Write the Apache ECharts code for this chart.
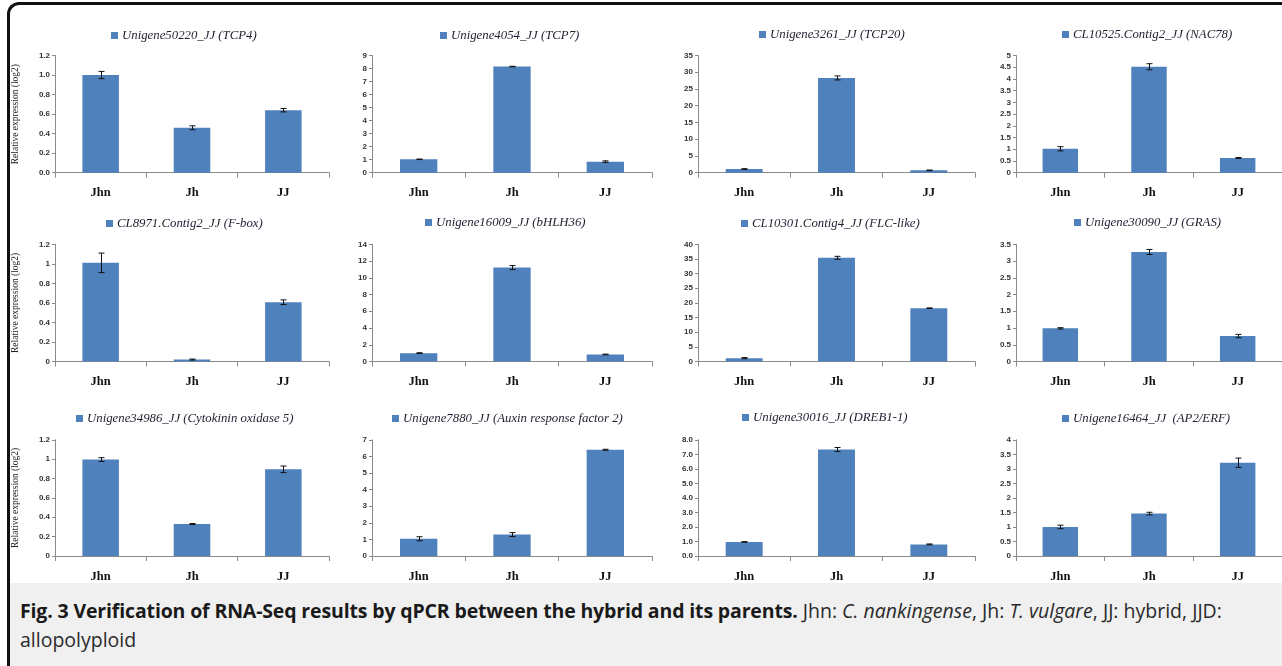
<!DOCTYPE html>
<html>
<head>
<meta charset="utf-8">
<title>qPCR verification</title>
<script src="https://cdn.jsdelivr.net/npm/echarts@6/dist/echarts.min.js"></script>
<style>
  body { margin: 0; background: #fff; }
  #wrap { position: relative; width: 1282px; height: 666px; overflow: hidden; }
  #main { position: absolute; left: 0; top: 0; width: 1282px; height: 583px; }
  #frame { position: absolute; left: 7px; top: 2px; width: 1280px; height: 680px;
           border-left: 3px solid #111; border-top: 3px solid #111;
           border-top-left-radius: 12px; pointer-events: none; }
  #caption { position: absolute; left: 10px; top: 583px; width: 1272px; height: 83px;
             background: #f0f0f0; font-family: "Open Sans", sans-serif; font-size: 19.5px;
             color: #2a2a2a; line-height: 29px; padding: 13px 0 0 10px; box-sizing: border-box; }
  #caption b { font-weight: 700; color: #1a1a1a; letter-spacing: -0.15px; }
</style>
</head>
<body>
<div id="wrap">
  <div id="main"></div>
  <div id="caption"><b>Fig. 3 Verification of RNA-Seq results by qPCR between the hybrid and its parents.</b> Jhn: <i>C. nankingense</i>, Jh: <i>T. vulgare</i>, JJ: hybrid, JJD:<br>allopolyploid</div>
  <div id="frame"></div>
</div>
<script>
// 数据
var categories = ['Jhn', 'Jh', 'JJ'];
var genes = [
  'Unigene50220_JJ (TCP4)', 'Unigene4054_JJ (TCP7)', 'Unigene3261_JJ (TCP20)', 'CL10525.Contig2_JJ (NAC78)',
  'CL8971.Contig2_JJ (F-box)', 'Unigene16009_JJ (bHLH36)', 'CL10301.Contig4_JJ (FLC-like)', 'Unigene30090_JJ (GRAS)',
  'Unigene34986_JJ (Cytokinin oxidase 5)', 'Unigene7880_JJ (Auxin response factor 2)', 'Unigene30016_JJ (DREB1-1)', 'Unigene16464_JJ  (AP2/ERF)'
];
var means = [
  [1.0, 0.46, 0.64], [1.03, 8.15, 0.85], [1.1, 28.3, 0.7], [1.02, 4.52, 0.63],
  [1.01, 0.02, 0.607], [1.0, 11.22, 0.84], [1.14, 35.4, 18.2], [0.99, 3.27, 0.76],
  [0.996, 0.33, 0.895], [1.04, 1.29, 6.4], [0.97, 7.33, 0.8], [1.0, 1.46, 3.21]
];
var errors = [
  [0.037, 0.02, 0.017], [0.02, 0.02, 0.06], [0.1, 0.6, 0.1], [0.09, 0.13, 0.02],
  [0.1, 0.005, 0.024], [0.05, 0.24, 0.04], [0.2, 0.5, 0.1], [0.02, 0.075, 0.05],
  [0.02, 0.005, 0.034], [0.12, 0.12, 0.03], [0.02, 0.14, 0.03], [0.06, 0.045, 0.16]
];
var yMax = [1.2, 9, 35, 5, 1.2, 14, 40, 3.5, 1.2, 7, 8, 4];
var yStep = [0.2, 1, 5, 0.5, 0.2, 2, 5, 0.5, 0.2, 1, 1, 0.5];
var yDecimals = [1, 0, 0, null, null, 0, 0, null, null, 0, 1, null];

// 布局
var colLeft = [55, 372, 698, 1016];
var colWidth = [274, 280, 277, 276];
var rowTop = [55.5, 244.3, 439.8];
var rowHeight = [117.2, 117.2, 117.2];
var legendPos = [
  [111, 37], [440, 37], [759, 36], [1062, 36],
  [106, 225], [425, 224], [741, 225], [1074, 224],
  [76, 420], [392, 420], [742, 419], [1062, 420]
];

var chart = echarts.init(document.getElementById('main'));
var grids = [], xAxes = [], yAxes = [], series = [], legends = [];

genes.forEach(function (name, i) {
  var r = Math.floor(i / 4), c = i % 4;
  grids.push({ left: colLeft[c], top: rowTop[r], width: colWidth[c], height: rowHeight[r] });
  xAxes.push({
    type: 'category', gridIndex: i, data: categories,
    axisLine: { lineStyle: { color: '#8a8a8a', width: 1 } },
    axisTick: { show: true, length: 5, lineStyle: { color: '#8a8a8a' } },
    axisLabel: { margin: 14, fontFamily: 'Liberation Serif', fontWeight: 'bold', fontSize: 12.5, color: '#111' }
  });
  var dec = yDecimals[i];
  yAxes.push({
    type: 'value', gridIndex: i, min: 0, max: yMax[i], interval: yStep[i],
    splitLine: { show: false },
    axisLine: { show: true, lineStyle: { color: '#8a8a8a', width: 1 } },
    axisTick: { show: true, length: 3, lineStyle: { color: '#8a8a8a' } },
    axisLabel: {
      margin: 5, fontFamily: 'Liberation Sans', fontWeight: 'bold', fontSize: 8, color: '#333',
      formatter: function (v) { return dec === null ? String(+v.toFixed(2)) : v.toFixed(dec); }
    },
    name: c === 0 ? 'Relative expression (log2)' : '',
    nameLocation: 'middle', nameGap: 35,
    nameTextStyle: { fontFamily: 'Liberation Serif', fontSize: 9.5, color: '#222' }
  });
  series.push({
    name: name, type: 'bar', xAxisIndex: i, yAxisIndex: i,
    data: means[i], barWidth: '40%',
    itemStyle: { color: '#4F81BD' }
  });
  series.push({
    name: 'err' + i, type: 'custom', xAxisIndex: i, yAxisIndex: i, z: 5,
    data: means[i].map(function (m, j) { return [j, m - errors[i][j], m + errors[i][j]]; }),
    renderItem: function (params, api) {
      var lo = api.coord([api.value(0), api.value(1)]);
      var hi = api.coord([api.value(0), api.value(2)]);
      var x = Math.round(lo[0]) + 0.5, w = 3;
      var st = { stroke: '#111', lineWidth: 1 };
      return {
        type: 'group', children: [
          { type: 'line', shape: { x1: x, y1: lo[1], x2: x, y2: hi[1] }, style: st },
          { type: 'line', shape: { x1: x - w, y1: lo[1], x2: x + w, y2: lo[1] }, style: st },
          { type: 'line', shape: { x1: x - w, y1: hi[1], x2: x + w, y2: hi[1] }, style: st }
        ]
      };
    }
  });
  legends.push({
    data: [name], left: legendPos[i][0], top: legendPos[i][1] - 8, padding: 0,
    icon: 'rect', itemWidth: 7, itemHeight: 7, itemGap: 4, selectedMode: false,
    textStyle: { fontFamily: 'Liberation Serif', fontStyle: 'italic', fontSize: 12.8, color: '#1e1e30', padding: [0, 0, 0, -1] }
  });
});

chart.setOption({
  animation: false,
  backgroundColor: '#fff',
  grid: grids,
  xAxis: xAxes,
  yAxis: yAxes,
  legend: legends,
  series: series
});
</script>
</body>
</html>
